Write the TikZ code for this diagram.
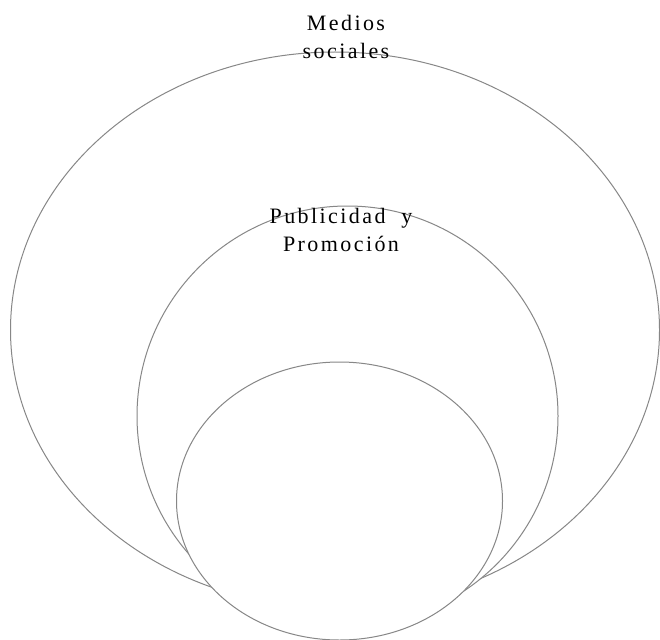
\documentclass[tikz,border=0pt]{standalone}
\usepackage{fontspec}
\setmainfont{Liberation Serif}[LetterSpace=11]
\begin{document}
\begin{tikzpicture}[x=1pt,y=-1pt,
  ring/.style={draw={rgb,255:red,135;green,135;blue,135},line width=1pt,fill=white},
  label/.style={align=center,font=\fontsize{22}{28}\selectfont,text=black,inner sep=0pt}]
  \useasboundingbox (0,0) rectangle (660,639);
  % nested areas, outermost first so inner ones overlay it
  \draw[ring] (335,330) ellipse [x radius=324.5, y radius=278];
  \draw[ring] (347.5,416) ellipse [x radius=210.5, y radius=210];
  \draw[ring] (339.5,501) ellipse [x radius=163, y radius=139];
  % labels
  \node[label] (social) at (346,37) {Medios\\sociales};
  \node[label] (pub) at (341,230) {Publicidad\ \ y\\Promoción};
\end{tikzpicture}
\end{document}
